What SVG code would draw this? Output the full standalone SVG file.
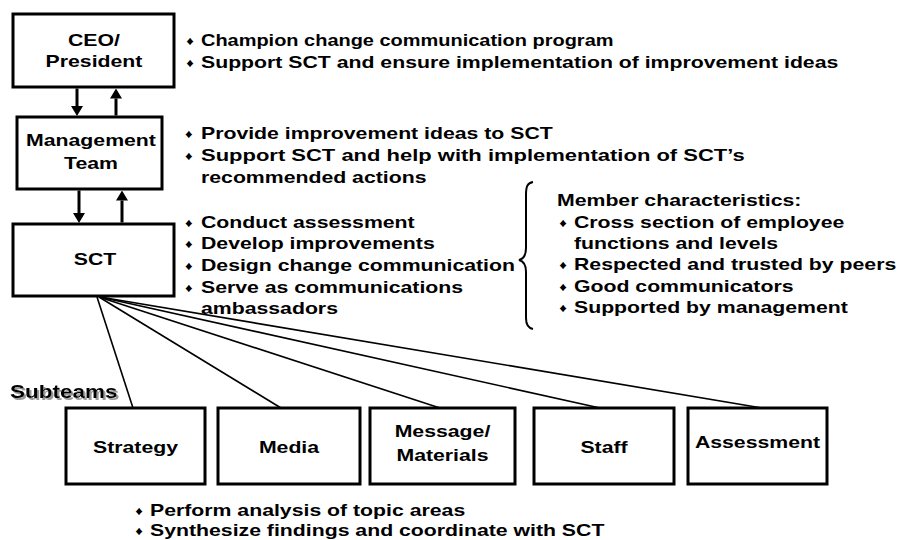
<svg xmlns="http://www.w3.org/2000/svg" width="899" height="540" viewBox="0 0 899 540">
<style>
  .box{fill:#fff;stroke:#000;stroke-width:3}
  .t{font-family:"Liberation Sans",Arial,sans-serif;font-weight:bold;font-size:17px;fill:#000}
  .c{text-anchor:middle}
  .b{font-family:"Liberation Sans","DejaVu Sans",sans-serif;font-size:12px;fill:#000;text-anchor:middle}
  .arr{stroke:#000;stroke-width:3;fill:none}
  .ln{stroke:#000;stroke-width:1.6;fill:none}
  .brace{stroke:#000;stroke-width:2;fill:none}
</style>
<defs>
  <marker id="ah" viewBox="0 0 10 12" markerWidth="10" markerHeight="12" refX="0" refY="6" orient="auto" markerUnits="userSpaceOnUse">
    <path d="M0,0 L10,6 L0,12 z" fill="#000"/>
  </marker>
  <filter id="shadow" x="-10%" y="-30%" width="130%" height="180%">
    <feOffset in="SourceAlpha" dx="1.5" dy="2" result="off"/>
    <feFlood flood-color="#999"/>
    <feComposite in2="off" operator="in" result="sh"/>
    <feMerge><feMergeNode in="sh"/><feMergeNode in="SourceGraphic"/></feMerge>
  </filter>
</defs>

<g id="connectors">
  <line class="arr" x1="77" y1="88.5" x2="77" y2="106" marker-end="url(#ah)"/>
  <line class="arr" x1="116" y1="115.5" x2="116" y2="98.5" marker-end="url(#ah)"/>
  <line class="arr" x1="79" y1="190.5" x2="79" y2="213" marker-end="url(#ah)"/>
  <line class="arr" x1="122" y1="222.5" x2="122" y2="200.5" marker-end="url(#ah)"/>
  <line class="ln" x1="97" y1="297" x2="133" y2="408"/>
  <line class="ln" x1="99" y1="297" x2="281" y2="408"/>
  <line class="ln" x1="99" y1="297" x2="440" y2="408"/>
  <line class="ln" x1="100" y1="297" x2="600" y2="408"/>
  <line class="ln" x1="100" y1="297" x2="762" y2="408"/>
</g>

<g id="ceo">
  <rect class="box" x="13" y="14" width="161" height="73"/>
  <g transform="scale(1.25 1)">
    <text class="t c" x="75.2" y="46.5">CEO/</text>
    <text class="t c" x="75.2" y="67">President</text>
  </g>
</g>

<g id="management">
  <rect class="box" x="17" y="117" width="145" height="72"/>
  <g transform="scale(1.25 1)">
    <text class="t c" x="72.8" y="146.5">Management</text>
    <text class="t c" x="72.8" y="169">Team</text>
  </g>
</g>

<g id="sct">
  <rect class="box" x="13" y="224" width="161" height="72"/>
  <g transform="scale(1.25 1)">
    <text class="t c" x="76" y="265.5">SCT</text>
  </g>
</g>

<g id="ceo-notes" transform="scale(1.25 1)">
  <text class="b" x="152" y="45.5">♦</text>
  <text class="t" x="160.8" y="46.5" textLength="330" lengthAdjust="spacingAndGlyphs">Champion change communication program</text>
  <text class="b" x="152" y="67.5">♦</text>
  <text class="t" x="160.8" y="68.5">Support SCT and ensure implementation of improvement ideas</text>
</g>

<g id="management-notes" transform="scale(1.25 1)">
  <text class="b" x="151" y="138">♦</text>
  <text class="t" x="160.8" y="139">Provide improvement ideas to SCT</text>
  <text class="b" x="151" y="160">♦</text>
  <text class="t" x="160.8" y="161" textLength="435" lengthAdjust="spacingAndGlyphs">Support SCT and help with implementation of SCT’s</text>
  <text class="t" x="160.8" y="183">recommended actions</text>
</g>

<g id="sct-notes" transform="scale(1.25 1)">
  <text class="b" x="151" y="227">♦</text>
  <text class="t" x="160.8" y="228">Conduct assessment</text>
  <text class="b" x="151" y="248.5">♦</text>
  <text class="t" x="160.8" y="249.5">Develop improvements</text>
  <text class="b" x="151" y="270.5">♦</text>
  <text class="t" x="160.8" y="271.5">Design change communication</text>
  <text class="b" x="151" y="292">♦</text>
  <text class="t" x="160.8" y="293">Serve as communications</text>
  <text class="t" x="160.8" y="314">ambassadors</text>
</g>

<g id="member-characteristics">
  <path class="brace" d="M533,182 C527,183 526,187 526,195 L526,248 C526,256 523,259 519,260 C523,261 526,264 526,272 L526,318 C526,325 528,328 533,329"/>
  <g transform="scale(1.25 1)">
    <text class="t" x="445.6" y="206.5">Member characteristics:</text>
    <text class="b" x="450.4" y="227">♦</text>
    <text class="t" x="459.2" y="228">Cross section of employee</text>
    <text class="t" x="459.2" y="249">functions and levels</text>
    <text class="b" x="450.4" y="269.5">♦</text>
    <text class="t" x="459.2" y="270.5">Respected and trusted by peers</text>
    <text class="b" x="450.4" y="291.5">♦</text>
    <text class="t" x="459.2" y="292.5">Good communicators</text>
    <text class="b" x="450.4" y="312.5">♦</text>
    <text class="t" x="459.2" y="313.5">Supported by management</text>
  </g>
</g>

<g id="subteams-label" transform="scale(1.25 1)">
  <text class="t" x="8" y="398" style="font-size:18px" filter="url(#shadow)">Subteams</text>
</g>

<g id="strategy">
  <rect class="box" x="66" y="408" width="139" height="76"/>
  <text class="t c" transform="scale(1.25 1)" x="108.4" y="453">Strategy</text>
</g>

<g id="media">
  <rect class="box" x="218" y="408" width="142" height="76"/>
  <text class="t c" transform="scale(1.25 1)" x="231.2" y="453">Media</text>
</g>

<g id="message-materials">
  <rect class="box" x="370" y="408" width="145" height="76"/>
  <g transform="scale(1.25 1)">
    <text class="t c" x="354" y="437">Message/</text>
    <text class="t c" x="354" y="461">Materials</text>
  </g>
</g>

<g id="staff">
  <rect class="box" x="534" y="408" width="140" height="76"/>
  <text class="t c" transform="scale(1.25 1)" x="483.2" y="453">Staff</text>
</g>

<g id="assessment">
  <rect class="box" x="688" y="408" width="139" height="76"/>
  <text class="t c" transform="scale(1.25 1)" x="606" y="448.5">Assessment</text>
</g>

<g id="subteam-notes" transform="scale(1.25 1)">
  <text class="b" x="111.2" y="515.5">♦</text>
  <text class="t" x="120" y="516.5">Perform analysis of topic areas</text>
  <text class="b" x="111.2" y="535.5">♦</text>
  <text class="t" x="120" y="536.5">Synthesize findings and coordinate with SCT</text>
</g>
</svg>
